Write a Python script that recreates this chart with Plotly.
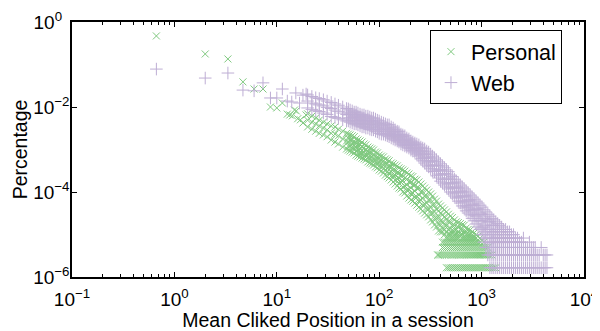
import plotly.graph_objects as go

# ---------------- data ----------------
personal_sparse_x = [0.667, 2.0, 3.33, 4.67, 6.0, 7.33, 8.67, 10.0, 11.33, 12.67, 13.4, 14.2,
                     14.9, 15.5, 16.0, 17.0, 18.0, 19.3]
personal_sparse_y = [0.47, 0.177, 0.135, 0.039, 0.0265, 0.0265, 0.010, 0.0095, 0.0124, 0.0068,
                     0.0065, 0.0062, 0.0085, 0.0081, 0.0053, 0.0050, 0.0042, 0.0065]

web_sparse_x = [0.667, 2.0, 3.33, 4.67, 6.0, 7.33, 8.67, 10.0, 11.33, 12.67, 14.0, 15.33,
                16.67, 18.0, 19.33]
web_sparse_y = [0.078, 0.048, 0.063, 0.025, 0.024, 0.037, 0.0163, 0.0163, 0.0265, 0.0138,
                0.0131, 0.0214, 0.0124, 0.019, 0.0202]

personal_col_x = [20, 22, 24, 26, 28.5, 31, 34, 37, 40, 44, 48, 52, 57, 62, 68, 74, 81, 88, 96,
                  105, 115, 125, 137, 150, 163, 178, 195, 213, 233, 255, 278, 304, 332, 363, 372,
                  397, 434, 474, 518, 566, 619, 676, 739, 808, 883, 965, 1055, 1150, 1260, 1375]
personal_col_y = [
    [0.0069, 0.0049, 0.0034],
    [0.0061, 0.0044, 0.0030],
    [0.0055, 0.0040, 0.0027],
    [0.0049, 0.0036, 0.0024],
    [0.0044, 0.0032, 0.0022],
    [0.0040, 0.0029, 0.0020],
    [0.0036, 0.0024, 0.00167],
    [0.0034, 0.0023, 0.0015],
    [0.0030, 0.0021, 0.00135],
    [0.0027, 0.00177, 0.00114],
    [0.0024, 0.00159, 0.00103],
    [0.0022, 0.00167, 0.00121, 0.00092],
    [0.0020, 0.00142, 0.00108, 0.00083],
    [0.00167, 0.00128, 0.00097, 0.0007],
    [0.0015, 0.00114, 0.00083, 0.00063],
    [0.00128, 0.00097, 0.00074, 0.00057],
    [0.00108, 0.00083, 0.00063, 0.00048],
    [0.00097, 0.00074, 0.00057, 0.00043],
    [0.00083, 0.00063, 0.00048, 0.00037],
    [0.0007, 0.00054, 0.00041, 0.00031],
    [0.0006, 0.00046, 0.00033, 0.00025],
    [0.00054, 0.00039, 0.00028, 0.000214],
    [0.00046, 0.00033, 0.00024, 0.000172],
    [0.00041, 0.00028, 0.0002, 0.000138],
    [0.00035, 0.00024, 0.000172, 0.000118],
    [0.00031, 0.000214, 0.000138, 9.5e-5],
    [0.000265, 0.000172, 0.000111, 7.2e-5],
    [0.00023, 0.000146, 9.5e-5, 6.1e-5],
    [0.000192, 0.000124, 7.6e-5, 4.9e-5],
    [0.000154, 0.0001, 6.5e-5, 4.0e-5],
    [0.000124, 8.0e-5, 5.2e-5, 3.2e-5],
    [0.0001, 6.5e-5, 4.0e-5, 2.6e-5],
    [8.0e-5, 4.9e-5, 3.2e-5, 1.98e-5],
    [6.1e-5, 4.0e-5, 2.4e-5, 1.5e-5],
    [3.3e-6],
    [4.7e-5, 3.2e-5, 2.1e-5, 1.65e-5, 1.155e-5, 3.3e-6],
    [3.8e-5, 2.6e-5, 1.77e-5, 1.32e-5, 9.9e-6, 6.6e-6, 4.95e-6, 3.3e-6],
    [3.0e-5, 1.98e-5, 1.32e-5, 9.9e-6, 8.25e-6, 6.6e-6, 4.95e-6, 3.3e-6, 1.65e-6],
    [2.5e-5, 1.65e-5, 1.155e-5, 8.25e-6, 6.6e-6, 4.95e-6, 3.3e-6, 1.65e-6],
    [1.98e-5, 1.32e-5, 9.9e-6, 8.25e-6, 6.6e-6, 4.95e-6, 3.3e-6, 1.65e-6],
    [1.8e-5, 1.32e-5, 9.9e-6, 6.6e-6, 4.95e-6, 3.3e-6, 1.65e-6],
    [1.65e-5, 1.155e-5, 8.25e-6, 6.6e-6, 4.95e-6, 3.3e-6, 1.65e-6],
    [1.32e-5, 9.9e-6, 8.25e-6, 6.6e-6, 4.95e-6, 3.3e-6, 1.65e-6],
    [1.155e-5, 9.9e-6, 8.25e-6, 6.6e-6, 4.95e-6, 3.3e-6, 1.65e-6],
    [9.9e-6, 8.25e-6, 6.6e-6, 4.95e-6, 3.3e-6, 1.65e-6],
    [8.25e-6, 6.6e-6, 4.95e-6, 3.3e-6, 1.65e-6],
    [6.6e-6, 4.95e-6, 3.3e-6, 1.65e-6],
    [4.95e-6, 3.3e-6, 1.65e-6],
    [3.3e-6, 1.65e-6],
    [1.65e-6],
]

personal_mid_x = [50, 54.5, 59.5, 65, 71, 77.5, 84.5, 92, 100, 110, 120, 131, 143, 156, 170,
                  186, 204, 223, 244, 266, 291, 318, 347, 380, 415, 454, 496, 542, 592, 647,
                  707, 773, 845, 924, 1010, 1100, 1200, 1320]
personal_mid_y = [
    [0.0023, 0.00187, 0.0015, 0.00121, 0.00097],
    [0.0021, 0.00167, 0.00135, 0.00108, 0.00087],
    [0.00177, 0.00142, 0.00114, 0.00092, 0.00074],
    [0.00159, 0.00128, 0.00103, 0.00083, 0.00067],
    [0.00135, 0.00108, 0.00087, 0.0007, 0.0006],
    [0.00114, 0.00092, 0.00078, 0.00063, 0.00051],
    [0.00103, 0.00083, 0.00067, 0.00054, 0.00046],
    [0.00087, 0.0007, 0.00057, 0.00048, 0.00039],
    [0.00074, 0.00063, 0.00051, 0.00041, 0.00033],
    [0.00067, 0.00054, 0.00043, 0.00035, 0.00028],
    [0.00057, 0.00046, 0.00037, 0.0003, 0.00023],
    [0.00048, 0.00039, 0.0003, 0.00024, 0.000192],
    [0.00043, 0.00033, 0.00025, 0.000192, 0.000154],
    [0.00037, 0.00028, 0.000214, 0.000163, 0.000124],
    [0.00033, 0.00024, 0.00018, 0.000131, 0.0001],
    [0.00028, 0.0002, 0.000146, 0.000111, 8.05e-5],
    [0.00024, 0.000172, 0.000124, 9.0e-5, 6.5e-5],
    [0.0002, 0.000146, 0.000105, 7.6e-5, 5.5e-5],
    [0.000172, 0.000124, 8.5e-5, 6.1e-5, 4.4e-5],
    [0.000138, 0.0001, 7.2e-5, 4.9e-5, 3.6e-5],
    [0.000111, 8.05e-5, 5.5e-5, 4.0e-5, 2.9e-5],
    [9.0e-5, 6.5e-5, 4.4e-5, 3.2e-5, 2.2e-5],
    [6.8e-5, 4.9e-5, 3.4e-5, 2.4e-5, 1.68e-5],
    [5.2e-5, 3.6e-5, 2.6e-5, 1.77e-5, 1.21e-5, 3.3e-6],
    [4.2e-5, 2.9e-5, 1.98e-5, 1.42e-5, 1.155e-5, 6.6e-6, 4.95e-6, 3.3e-6],
    [3.4e-5, 2.3e-5, 1.65e-5, 1.155e-5, 8.25e-6, 6.6e-6, 4.95e-6, 3.3e-6, 1.65e-6],
    [2.7e-5, 1.98e-5, 1.42e-5, 1.155e-5, 9.9e-6, 8.25e-6, 6.6e-6, 4.95e-6, 3.3e-6, 1.65e-6],
    [2.2e-5, 1.65e-5, 1.32e-5, 1.155e-5, 9.9e-6, 8.25e-6, 6.6e-6, 4.95e-6, 3.3e-6, 1.65e-6],
    [1.9e-5, 1.5e-5, 1.155e-5, 9.9e-6, 8.25e-6, 6.6e-6, 4.95e-6, 3.3e-6, 1.65e-6],
    [1.7e-5, 1.32e-5, 9.9e-6, 8.25e-6, 6.6e-6, 4.95e-6, 3.3e-6, 1.65e-6],
    [1.42e-5, 1.155e-5, 9.9e-6, 8.25e-6, 6.6e-6, 4.95e-6, 3.3e-6, 1.65e-6],
    [1.28e-5, 9.9e-6, 8.25e-6, 6.6e-6, 4.95e-6, 3.3e-6, 1.65e-6],
    [1.09e-5, 8.25e-6, 6.6e-6, 4.95e-6, 3.3e-6, 1.65e-6],
    [9.2e-6, 6.6e-6, 4.95e-6, 3.3e-6, 1.65e-6],
    [7.2e-6, 4.95e-6, 3.3e-6, 1.65e-6],
    [4.95e-6, 3.3e-6, 1.65e-6],
    [3.3e-6, 1.65e-6],
    [1.65e-6],
]

web_col_x = [20, 22, 24, 26, 28.5, 31, 34, 37, 40, 44, 48, 52, 57, 62, 68, 74, 81, 88, 96,
             105, 115, 125, 137, 150, 163, 178, 195, 213, 233, 255, 278, 304, 332, 363, 397,
             434, 474, 518, 566, 619, 676, 739, 808, 883, 965, 1055, 1150, 1260, 1375, 1500,
             1640, 1795, 1960, 2140, 2340, 2560, 2800, 3060, 3340, 3650, 4000, 4350]
web_col_y = [
    [0.0192, 0.0138, 0.0095],
    [0.0177, 0.0124, 0.0088],
    [0.0165, 0.0118, 0.0082],
    [0.0158, 0.0112, 0.0078],
    [0.0148, 0.0106, 0.0072],
    [0.0138, 0.0098, 0.0067],
    [0.0128, 0.0092, 0.0060],
    [0.0118, 0.0085, 0.0057],
    [0.0110, 0.0079, 0.0054],
    [0.0100, 0.0072, 0.0050],
    [0.0092, 0.0067, 0.0047],
    [0.0085, 0.0068, 0.0055, 0.0044],
    [0.0076, 0.0061, 0.0049, 0.0040],
    [0.0072, 0.0058, 0.0047, 0.0038],
    [0.0065, 0.0052, 0.0042, 0.0034],
    [0.0061, 0.0049, 0.0040, 0.0032],
    [0.0058, 0.0047, 0.0038, 0.0030],
    [0.0055, 0.0044, 0.0036, 0.0029],
    [0.0049, 0.0040, 0.0032, 0.0026],
    [0.0044, 0.0036, 0.0029, 0.0023],
    [0.0040, 0.0032, 0.0027, 0.0022],
    [0.0038, 0.0030, 0.0024, 0.0020],
    [0.0032, 0.0026, 0.0022, 0.00177],
    [0.0027, 0.0023, 0.00187, 0.00159],
    [0.0023, 0.0020, 0.00167, 0.00135],
    [0.0021, 0.00167, 0.00142, 0.00121],
    [0.00177, 0.0015, 0.00128, 0.00108],
    [0.0015, 0.00128, 0.00108, 0.00092],
    [0.00135, 0.00114, 0.00097, 0.00078],
    [0.00114, 0.00092, 0.00074, 0.0006],
    [0.00103, 0.00078, 0.00063, 0.00048],
    [0.00087, 0.00067, 0.00051, 0.00039],
    [0.0007, 0.00054, 0.00041, 0.00031],
    [0.00057, 0.00043, 0.00031, 0.00024],
    [0.00046, 0.00033, 0.00025, 0.00018],
    [0.00037, 0.00027, 0.0002, 0.000146],
    [0.00030, 0.000214, 0.000154, 0.000118],
    [0.00023, 0.000163, 0.000124, 9.0e-5],
    [0.00018, 0.000131, 9.5e-5, 7.2e-5],
    [0.000146, 0.000105, 7.6e-5, 5.5e-5],
    [0.000118, 8.1e-5, 5.8e-5, 4.2e-5],
    [9.5e-5, 6.5e-5, 4.4e-5, 3.2e-5],
    [7.6e-5, 5.2e-5, 3.6e-5, 2.4e-5],
    [6.1e-5, 4.0e-5, 2.7e-5, 1.77e-5],
    [4.9e-5, 3.2e-5, 2.1e-5, 1.32e-5],
    [3.8e-5, 2.4e-5, 1.5e-5, 9.9e-6, 6.6e-6],
    [3.0e-5, 1.98e-5, 1.32e-5, 8.25e-6, 4.95e-6, 3.3e-6],
    [2.4e-5, 1.65e-5, 1.155e-5, 8.25e-6, 6.6e-6, 4.95e-6, 3.3e-6, 1.65e-6],
    [1.98e-5, 1.32e-5, 9.9e-6, 6.6e-6, 4.95e-6, 3.3e-6, 1.65e-6],
    [1.65e-5, 1.155e-5, 8.25e-6, 6.6e-6, 4.95e-6, 3.3e-6, 1.65e-6],
    [1.32e-5, 9.9e-6, 8.25e-6, 6.6e-6, 4.95e-6, 3.3e-6, 1.65e-6],
    [1.155e-5, 8.25e-6, 6.6e-6, 4.95e-6, 3.3e-6, 1.65e-6],
    [9.9e-6, 8.25e-6, 6.6e-6, 4.95e-6, 3.3e-6, 1.65e-6],
    [8.25e-6, 6.6e-6, 4.95e-6, 3.3e-6, 1.65e-6],
    [6.6e-6, 4.95e-6, 3.3e-6, 1.65e-6],
    [8.25e-6, 4.95e-6, 3.3e-6, 1.65e-6],
    [4.95e-6, 3.3e-6, 1.65e-6],
    [4.95e-6, 3.3e-6, 1.65e-6],
    [4.95e-6, 3.3e-6, 1.65e-6],
    [3.3e-6, 1.65e-6],
    [1.65e-6, 3.3e-6],
    [1.65e-6, 3.3e-6],
]

web_mid_x = [50, 54.5, 59.5, 65, 71, 77.5, 84.5, 92, 100, 110, 120, 131, 143, 156, 170, 186,
             204, 223, 244, 266, 291, 318, 347, 380, 415, 454, 496, 542, 592, 647, 707, 773,
             845, 924, 1010, 1100, 1205, 1315, 1435, 1570, 1715, 1875, 2050, 2240, 2450, 2680,
             2930, 3200, 3490, 3820, 4170]
web_mid_y = [
    [0.009, 0.0076, 0.0065, 0.0055, 0.0047],
    [0.0081, 0.0068, 0.0058, 0.0049, 0.0042],
    [0.0076, 0.0065, 0.0055, 0.0047, 0.0040],
    [0.0068, 0.0058, 0.0049, 0.0042, 0.0036],
    [0.0065, 0.0055, 0.0047, 0.0040, 0.0034],
    [0.0061, 0.0052, 0.0044, 0.0038, 0.0032],
    [0.0055, 0.0047, 0.0040, 0.0034, 0.0029],
    [0.0052, 0.0044, 0.0038, 0.0032, 0.0027],
    [0.0047, 0.0040, 0.0034, 0.0029, 0.0024],
    [0.0042, 0.0036, 0.0030, 0.0026, 0.0023],
    [0.0038, 0.0032, 0.0029, 0.0024, 0.0021],
    [0.0034, 0.0029, 0.0026, 0.0022, 0.00187],
    [0.0029, 0.0026, 0.0022, 0.0020, 0.00167],
    [0.0026, 0.0022, 0.0020, 0.00167, 0.0015],
    [0.0022, 0.0020, 0.00167, 0.0015, 0.00128],
    [0.00187, 0.00167, 0.00142, 0.00128, 0.00114],
    [0.00159, 0.00142, 0.00128, 0.00108, 0.00097],
    [0.00142, 0.00128, 0.00108, 0.00097, 0.00087],
    [0.00128, 0.00108, 0.00092, 0.00083, 0.0007],
    [0.00108, 0.00092, 0.00078, 0.00063, 0.00054],
    [0.00092, 0.00078, 0.00063, 0.00054, 0.00043],
    [0.00078, 0.00063, 0.00054, 0.00043, 0.00035],
    [0.00063, 0.00051, 0.00043, 0.00035, 0.0003],
    [0.00051, 0.00041, 0.00033, 0.000265, 0.000214],
    [0.00041, 0.00033, 0.000265, 0.0002, 0.000163],
    [0.00033, 0.000265, 0.0002, 0.000163, 0.000131],
    [0.00025, 0.0002, 0.000163, 0.000131, 0.0001],
    [0.0002, 0.000163, 0.000124, 0.0001, 8.05e-5],
    [0.000163, 0.000124, 0.0001, 7.6e-5, 6.1e-5],
    [0.000131, 0.0001, 8.05e-5, 6.1e-5, 4.7e-5],
    [0.000105, 8.05e-5, 6.1e-5, 4.7e-5, 3.6e-5],
    [8.5e-5, 6.5e-5, 4.9e-5, 3.8e-5, 2.9e-5],
    [6.8e-5, 4.9e-5, 3.8e-5, 2.9e-5, 2.1e-5],
    [5.5e-5, 4.0e-5, 2.9e-5, 2.1e-5, 1.5e-5],
    [4.4e-5, 3.0e-5, 2.1e-5, 1.42e-5, 9.9e-6],
    [3.4e-5, 2.3e-5, 1.65e-5, 1.155e-5, 8.25e-6, 4.95e-6],
    [2.7e-5, 1.98e-5, 1.32e-5, 9.9e-6, 6.6e-6, 4.95e-6, 3.3e-6, 1.65e-6],
    [2.2e-5, 1.65e-5, 1.155e-5, 8.25e-6, 6.6e-6, 4.95e-6, 3.3e-6, 1.65e-6],
    [1.8e-5, 1.32e-5, 9.9e-6, 8.25e-6, 6.6e-6, 4.95e-6, 3.3e-6, 1.65e-6],
    [1.5e-5, 1.155e-5, 8.25e-6, 6.6e-6, 4.95e-6, 3.3e-6, 1.65e-6],
    [1.32e-5, 9.9e-6, 8.25e-6, 6.6e-6, 4.95e-6, 3.3e-6, 1.65e-6],
    [1.155e-5, 8.25e-6, 6.6e-6, 4.95e-6, 3.3e-6, 1.65e-6],
    [9.9e-6, 6.6e-6, 4.95e-6, 3.3e-6, 1.65e-6],
    [8.25e-6, 6.6e-6, 4.95e-6, 3.3e-6, 1.65e-6],
    [6.6e-6, 4.95e-6, 3.3e-6, 1.65e-6],
    [4.95e-6, 3.3e-6, 1.65e-6],
    [6.6e-6, 3.3e-6, 1.65e-6],
    [4.95e-6, 3.3e-6, 1.65e-6],
    [3.3e-6, 1.65e-6],
    [4.95e-6, 1.65e-6],
    [3.3e-6, 1.65e-6],
]

NB = "\u00a0"
x_tick_vals = [0.1, 1, 10, 100, 1000, 10000]
x_tick_text = ["10<sup>−1</sup>", "10<sup>0</sup>", "10<sup>1</sup>", "10<sup>2</sup>",
               "10<sup>3</sup>", "10<sup>4</sup>"]
y_tick_vals = [1, 1e-2, 1e-4, 1e-6]
y_tick_text = ["10<sup>0" + NB * 2 + "</sup>", "10<sup>−2</sup>", "10<sup>−4</sup>",
               "10<sup>−6</sup>"]

GREEN = "#7fc97f"
PURPLE = "#beaed4"
FONT = "Liberation Sans, Arial, sans-serif"


def flatten(groups):
    xs, ys = [], []
    for cx, cy in groups:
        for x, col in zip(cx, cy):
            for y in col:
                xs.append(x)
                ys.append(y)
    return xs, ys


px_, py_ = flatten([(personal_sparse_x, [[v] for v in personal_sparse_y]),
                    (personal_col_x, personal_col_y), (personal_mid_x, personal_mid_y)])
wx_, wy_ = flatten([(web_sparse_x, [[v] for v in web_sparse_y]),
                    (web_col_x, web_col_y), (web_mid_x, web_mid_y)])

fig = go.Figure()
fig.add_trace(go.Scatter(
    x=px_, y=py_, mode="markers", name="Personal",
    marker=dict(symbol="x-thin", size=7, color=GREEN, line=dict(color=GREEN, width=1)),
))
fig.add_trace(go.Scatter(
    x=wx_, y=wy_, mode="markers", name="Web",
    marker=dict(symbol="cross-thin", size=9, color=PURPLE, line=dict(color=PURPLE, width=1)),
))

minor_x = []
for d in [0.1, 1, 10, 100, 1000]:
    for m in range(2, 10):
        minor_x.append(d * m)

# the page body adds an 8 px offset; the figure is sized so that offset + figure
# exactly fills the 600x331 window, and the plot lands where the reference has it
fig.update_layout(
    width=592, height=323,
    margin=dict(l=64, r=16, t=14, b=54),
    paper_bgcolor="white", plot_bgcolor="white",
    font=dict(family=FONT, size=19, color="black"),
    showlegend=True,
    legend=dict(
        x=0.957, y=0.968, xanchor="right", yanchor="top",
        bgcolor="white", bordercolor="black", borderwidth=1,
        font=dict(size=21.5, family=FONT, color="black"),
    ),
    xaxis=dict(
        type="log", range=[-1, 4], automargin=False,
        tickmode="array", tickvals=x_tick_vals, ticktext=x_tick_text,
        ticks="inside", ticklen=5, tickcolor="black", tickwidth=1,
        showline=True, linecolor="black", linewidth=1.5, mirror="allticks",
        showgrid=False, zeroline=False, ticklabelstandoff=4,
        minor=dict(tickmode="array", tickvals=minor_x, ticks="inside", ticklen=3,
                   tickcolor="black", showgrid=False),
        title=dict(text="Mean Cliked Position in a session", font=dict(size=19.5), standoff=0),
        tickfont=dict(size=19),
    ),
    yaxis=dict(
        type="log", range=[-6, 0], automargin=False,
        tickmode="array", tickvals=y_tick_vals, ticktext=y_tick_text,
        ticks="inside", ticklen=5, tickcolor="black", tickwidth=1,
        showline=True, linecolor="black", linewidth=1.5, mirror="allticks",
        showgrid=False, zeroline=False, ticklabelstandoff=-3,
        title=dict(text="Percentage", font=dict(size=19.5), standoff=0),
        tickfont=dict(size=19),
    ),
)

fig.write_html("out.html")
